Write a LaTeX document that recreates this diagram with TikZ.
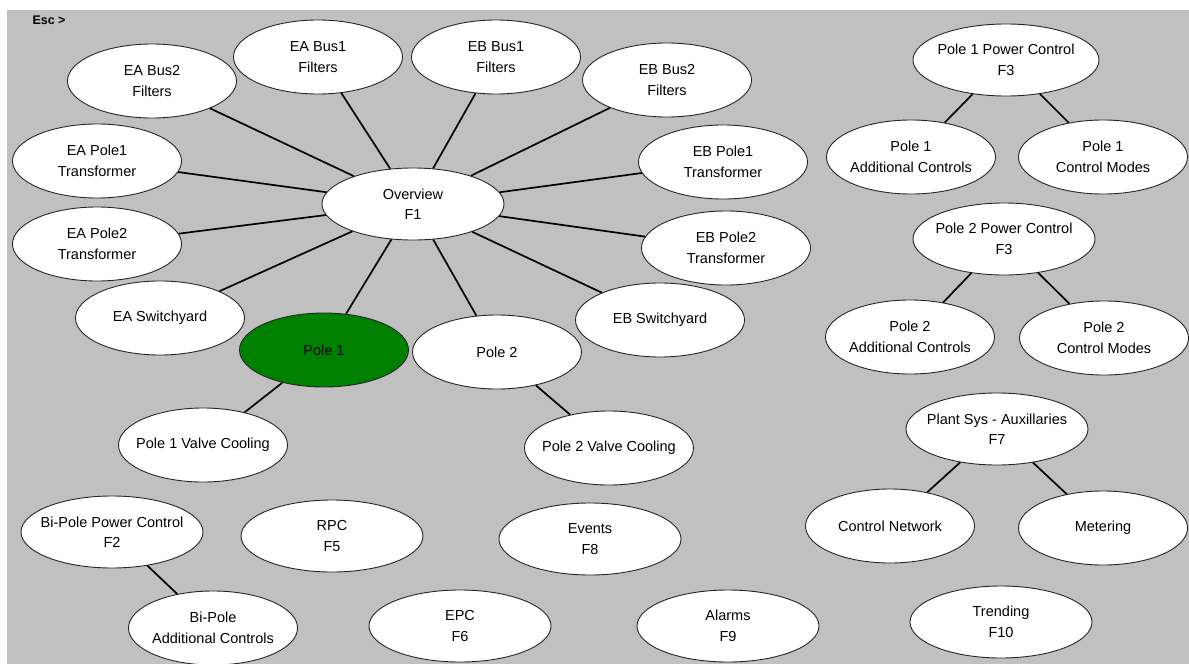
\documentclass[tikz,border=0pt]{standalone}
\usepackage{fontspec}
\setmainfont{Liberation Sans}
\usetikzlibrary{shapes.geometric}

\definecolor{panel}{HTML}{C0C0C0}
\definecolor{active}{HTML}{008000}

\tikzset{
  screen/.style={ellipse, draw=black!85, line width=.9pt, fill=white,
    inner xsep=-25pt, inner ysep=-20pt,
    minimum width=169pt, minimum height=74pt, align=center,
    font=\fontsize{14.5}{20.5}\selectfont},
  fkey/.style={screen, minimum width=182pt, minimum height=72pt},
  link/.style={line width=1.7pt},
}

\begin{document}
\begin{tikzpicture}[x=1pt, y=-1pt]
\useasboundingbox (0,0) rectangle (1189,664);
\fill[panel] (7,10) rectangle (1189,664);

\node[anchor=west, font=\bfseries\fontsize{12.5}{14}\selectfont] (esc) at (29,20) {Esc >};

% station overview and the screens round it
\node[fkey] (overview) at (413,204) {Overview\\F1};
\node[screen] (bus1a) at (318,57) {EA Bus1\\Filters};
\node[screen] (bus1b) at (496,57) {EB Bus1\\Filters};
\node[screen] (bus2a) at (152,81) {EA Bus2\\Filters};
\node[screen] (bus2b) at (667,80) {EB Bus2\\Filters};
\node[screen] (tr1a) at (97,161) {EA Pole1\\Transformer};
\node[screen] (tr1b) at (723,162) {EB Pole1\\Transformer};
\node[screen] (tr2a) at (97,244) {EA Pole2\\Transformer};
\node[screen] (tr2b) at (726,248) {EB Pole2\\Transformer};
\node[screen] (swya) at (160,318) {EA Switchyard};
\node[screen] (swyb) at (660,320) {EB Switchyard};
\node[screen, fill=active] (pole1) at (324,350) {Pole 1};
\node[screen] (pole2) at (497,352) {Pole 2};
\node[screen] (cool1) at (203,445) {Pole 1 Valve Cooling};
\node[screen] (cool2) at (609,448) {Pole 2 Valve Cooling};

\foreach \n in {bus1a,bus1b,bus2a,bus2b,tr1a,tr1b,tr2a,tr2b,swya,swyb,pole1,pole2}
  \draw[link] (overview) -- (\n);
\draw[link] (pole1) -- (cool1);
\draw[link] (pole2) -- (cool2);

% bottom row
\node[fkey] (bipc) at (112,532) {Bi-Pole Power Control\\F2};
\node[screen] (biac) at (213,628) {Bi-Pole\\Additional Controls};
\node[fkey] (rpc) at (332,536) {RPC\\F5};
\node[fkey] (epc) at (460,626) {EPC\\F6};
\node[fkey] (events) at (590,539) {Events\\F8};
\node[fkey] (alarms) at (728,626) {Alarms\\F9};
\draw[link] (bipc) -- (biac);

% pole controls
\node[fkey, minimum width=186pt] (p1pc) at (1006,60) {Pole 1 Power Control\\F3};
\node[screen] (p1ac) at (911,157) {Pole 1\\Additional Controls};
\node[screen] (p1cm) at (1103,157) {Pole 1\\Control Modes};
\node[fkey] (p2pc) at (1004,239) {Pole 2 Power Control\\F3};
\node[screen] (p2ac) at (910,337) {Pole 2\\Additional Controls};
\node[screen] (p2cm) at (1104,338) {Pole 2\\Control Modes};
\draw[link] (p1pc) -- (p1ac);
\draw[link] (p1pc) -- (p1cm);
\draw[link] (p2pc) -- (p2ac);
\draw[link] (p2pc) -- (p2cm);

% plant systems
\node[fkey] (plant) at (997,429) {Plant Sys - Auxillaries\\F7};
\node[screen] (cnet) at (890,526) {Control Network};
\node[screen] (meter) at (1103,528) {Metering};
\node[fkey] (trend) at (1001,622) {Trending\\F10};
\draw[link] (plant) -- (cnet);
\draw[link] (plant) -- (meter);
\end{tikzpicture}
\end{document}
